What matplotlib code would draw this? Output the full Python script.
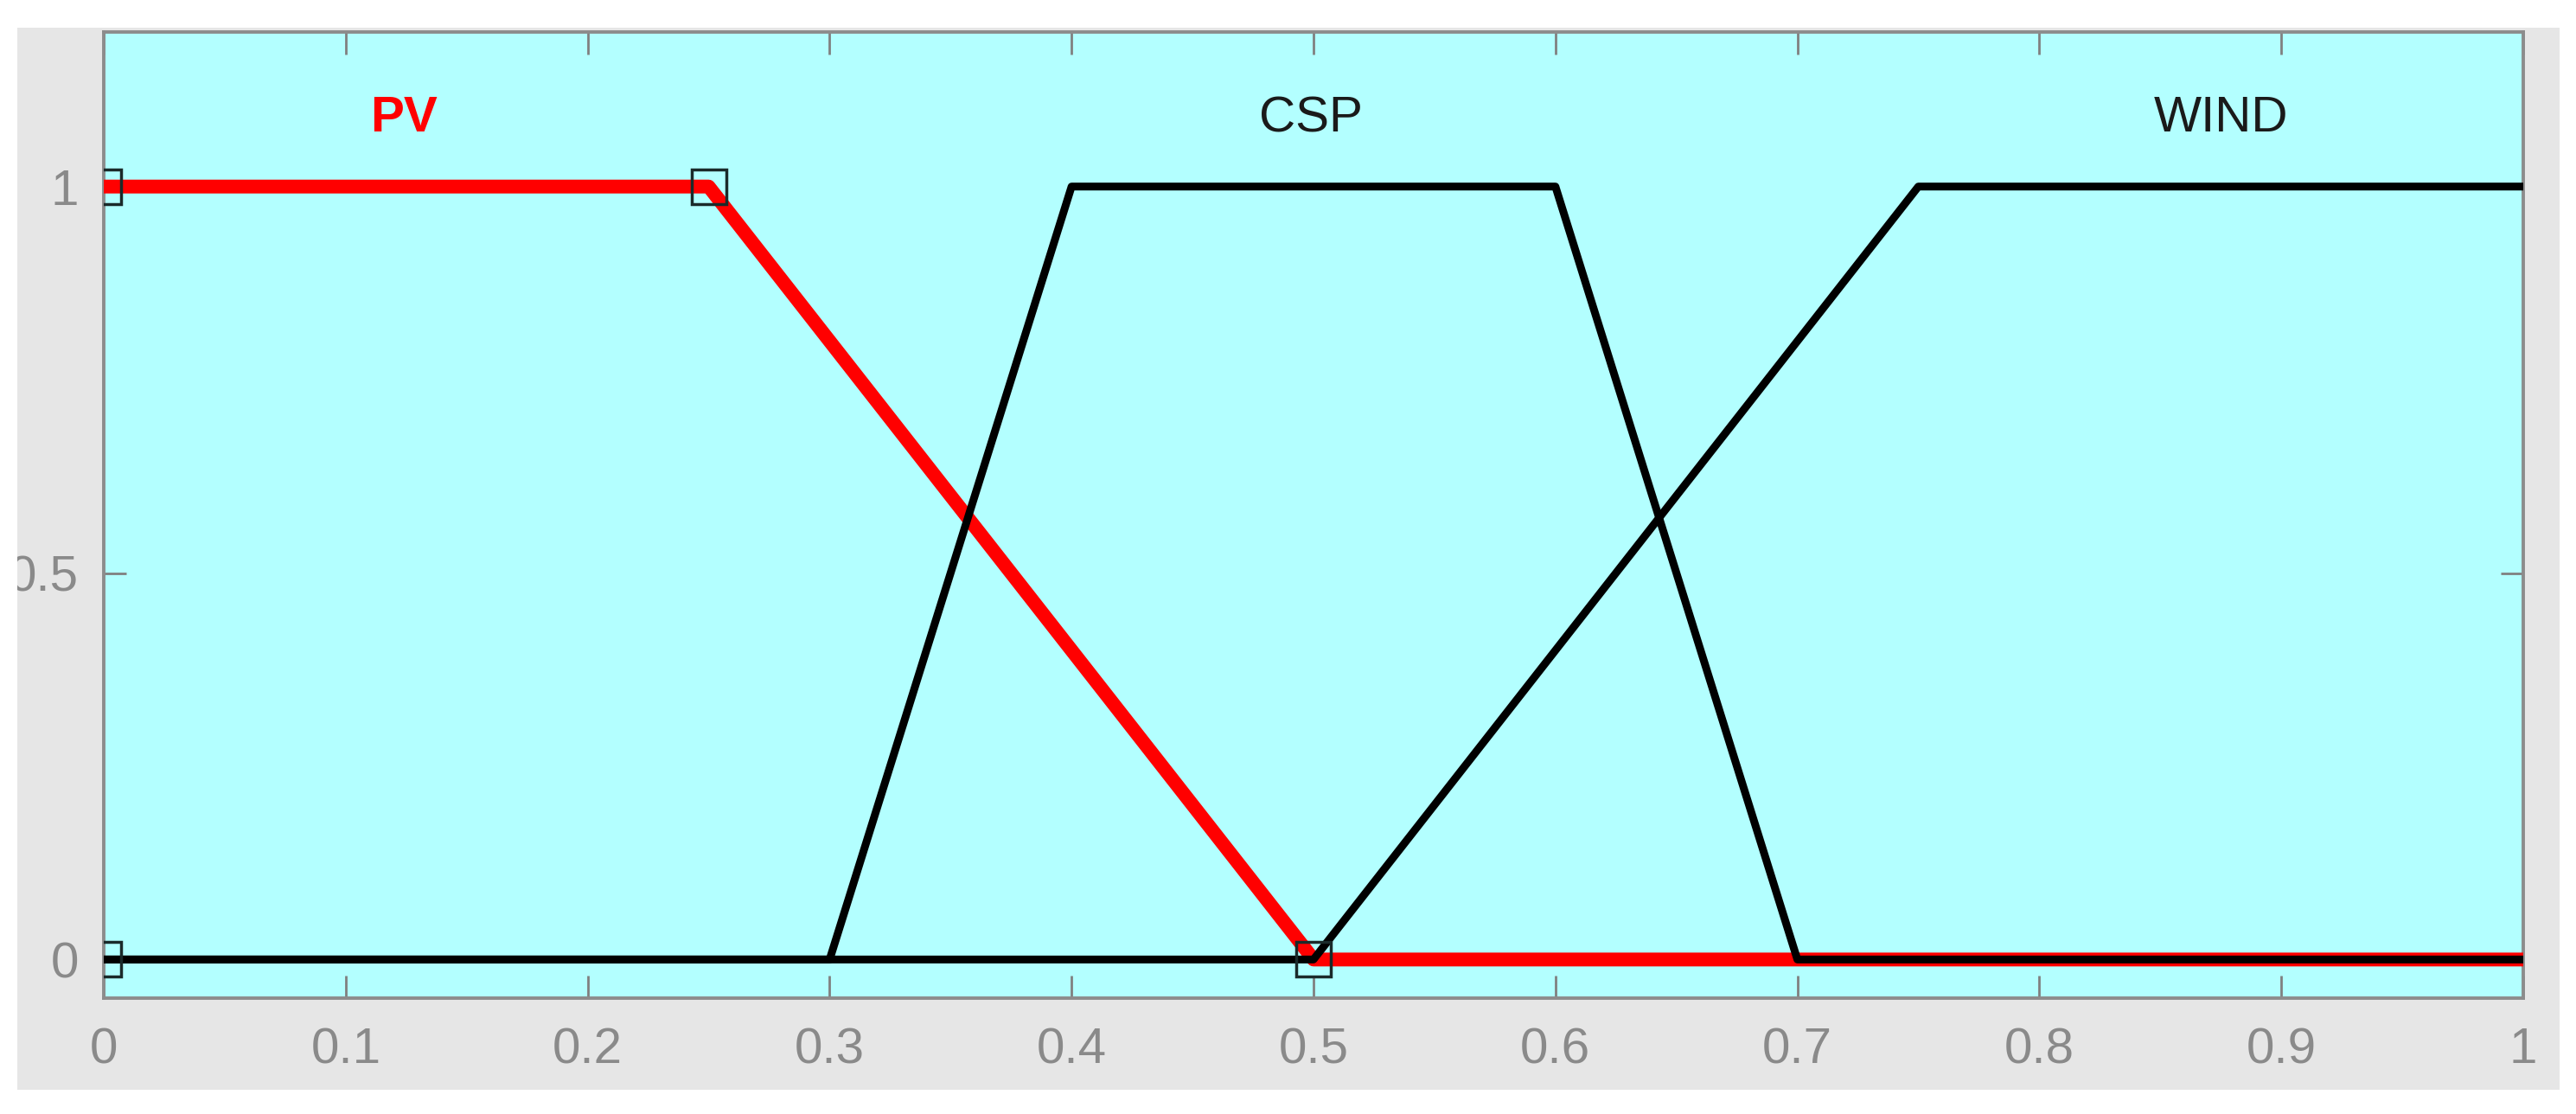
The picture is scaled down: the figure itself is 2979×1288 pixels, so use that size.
import numpy as np
import matplotlib.pyplot as plt
from matplotlib.patches import Rectangle

plt.rcParams['font.family'] = ['Liberation Sans', 'DejaVu Sans']

# funciones de pertenencia (trapecios)
pv_x = [0, 0.25, 0.5, 1]
pv_y = [1, 1, 0, 0]
pv_vx = [0, 0, 0.25, 0.5]
pv_vy = [0, 1, 1, 0]
csp_x = [0, 0.3, 0.4, 0.6, 0.7, 1]
csp_y = [0, 0, 1, 1, 0, 0]
wind_x = [0, 0.5, 0.75, 1]
wind_y = [0, 0, 1, 1]

names = ['PV', 'CSP', 'WIND']
name_x = [0.124, 0.499, 0.875]
name_col = ['red', '#1a1a1a', '#1a1a1a']
name_w = ['bold', 'normal', 'normal']

xticks = np.round(np.arange(0, 1.01, 0.1), 1)
xlabels = ['0', '0.1', '0.2', '0.3', '0.4', '0.5', '0.6', '0.7', '0.8', '0.9', '1']
yticks = [0, 0.5, 1]
ylabels = ['0', '0.5', '1']

fig = plt.figure(figsize=(29.79, 12.88), dpi=100)
fig.patch.set_facecolor('white')
# panel gris de fondo
fig.patches.append(Rectangle((0.0067, 0.0217), 0.9869, 0.9534, transform=fig.transFigure,
                             facecolor='#e6e6e6', edgecolor='none', zorder=-5))
ax = fig.add_axes([0.0403, 0.1040, 0.9392, 0.8673])
ax.set_facecolor('#b3ffff')

ax.plot(pv_x, pv_y, color='red', lw=11.5, solid_capstyle='butt', zorder=3)
ax.plot(csp_x, csp_y, color='black', lw=6.5, zorder=4)
ax.plot(wind_x, wind_y, color='black', lw=6.5, zorder=4)
ax.plot(pv_vx, pv_vy, ls='none', marker='s', ms=29, mfc='none', mec='#1a2a2a', mew=2.5, zorder=5)

for n, xx, c, w in zip(names, name_x, name_col, name_w):
    ax.text(xx, 1.088, n, color=c, fontsize=42, fontweight=w, ha='center', va='center')

ax.set_xlim(0, 1)
ax.set_ylim(-0.05, 1.2)
ax.set_xticks(xticks)
ax.set_xticklabels(xlabels)
ax.set_yticks(yticks)
ax.set_yticklabels(ylabels)
ax.tick_params(direction='in', length=19, width=2, color='#808080', labelcolor='#8a8a8a',
               labelsize=42, top=True, right=True)
ax.tick_params(axis='x', pad=24)
ax.tick_params(axis='y', pad=21)
for s in ax.spines.values():
    s.set_color('#8c8c8c')
    s.set_linewidth(2.8)

# recorte blanco a la izquierda
fig.patches.append(Rectangle((0, 0), 0.0067, 1, transform=fig.transFigure,
                             facecolor='white', edgecolor='none', zorder=10))

plt.savefig('out.png', dpi=100)
